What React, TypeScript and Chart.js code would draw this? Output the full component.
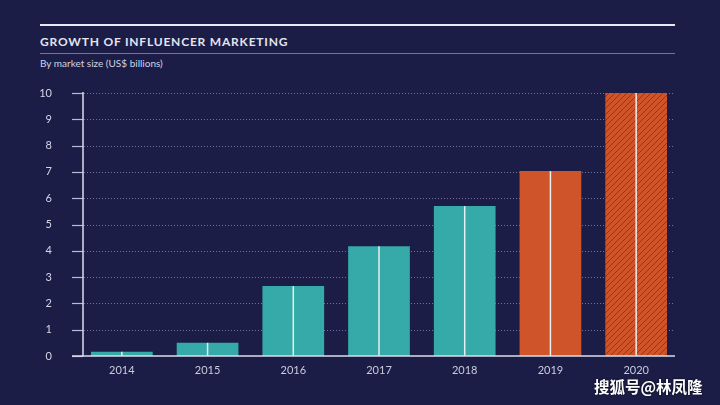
import React, { useEffect, useRef } from "react";
import { Chart, registerables } from "chart.js";
Chart.register(...registerables);

const years = ["2014", "2015", "2016", "2017", "2018", "2019", "2020"];
const marketSize = [0.16, 0.5, 2.66, 4.17, 5.7, 7.03, 10.0];
// "teal" = reported, "orange" = estimate, "hatch" = projection
const barKinds = ["teal", "teal", "teal", "teal", "teal", "orange", "hatch"];
const yMin = 0;
const yMax = 10;

const BG = "#1b1d46";
const TEAL = "#35aaa8";
const ORANGE = "#d0542a";

function makeHatch(): CanvasPattern | string {
  const c = document.createElement("canvas");
  const s = 6;
  c.width = s;
  c.height = s;
  const g = c.getContext("2d");
  if (!g) return ORANGE;
  g.fillStyle = ORANGE;
  g.fillRect(0, 0, s, s);
  g.strokeStyle = "#8e3822";
  g.lineWidth = 1;
  g.beginPath();
  g.moveTo(0, s);
  g.lineTo(s, 0);
  g.moveTo(-s, s);
  g.lineTo(0, 0);
  g.moveTo(0, 2 * s);
  g.lineTo(2 * s, 0);
  g.stroke();
  const p = g.createPattern(c, "repeat");
  return p || ORANGE;
}

const decor = {
  id: "decor",
  beforeDatasetsDraw(chart: any) {
    const { ctx, chartArea, scales } = chart;
    const y = scales.y;
    ctx.save();
    ctx.strokeStyle = "rgba(140,144,190,0.75)";
    ctx.setLineDash([1, 2]);
    ctx.lineWidth = 1;
    y.ticks.forEach((t: any) => {
      if (t.value === yMin) return;
      const py = Math.round(y.getPixelForValue(t.value)) + 0.5;
      ctx.beginPath();
      ctx.moveTo(chartArea.left + 5, py);
      ctx.lineTo(chartArea.right - 4, py);
      ctx.stroke();
    });
    ctx.restore();
  },
  afterDatasetsDraw(chart: any) {
    const { ctx, chartArea, scales } = chart;
    const y = scales.y;
    ctx.save();
    // center white lines in bars
    const meta = chart.getDatasetMeta(0);
    ctx.strokeStyle = "#e6eef0";
    ctx.lineWidth = 1.5;
    meta.data.forEach((bar: any) => {
      ctx.beginPath();
      ctx.moveTo(bar.x, bar.y);
      ctx.lineTo(bar.x, bar.base);
      ctx.stroke();
    });
    // tick marks
    const axX = chartArea.left + 4;
    ctx.strokeStyle = "#b9bcd6";
    ctx.lineWidth = 1.2;
    y.ticks.forEach((t: any) => {
      const py = Math.round(y.getPixelForValue(t.value)) + 0.5;
      ctx.beginPath();
      ctx.moveTo(chartArea.left - 7, py);
      ctx.lineTo(axX, py);
      ctx.stroke();
    });
    // y axis line
    ctx.strokeStyle = "#dcdeea";
    ctx.lineWidth = 1.5;
    ctx.beginPath();
    ctx.moveTo(axX, y.getPixelForValue(yMax) - 1);
    ctx.lineTo(axX, y.getPixelForValue(yMin));
    ctx.stroke();
    // baseline
    const by = y.getPixelForValue(yMin);
    ctx.beginPath();
    ctx.moveTo(chartArea.left - 7, by);
    ctx.lineTo(chartArea.right - 4, by);
    ctx.stroke();
    ctx.restore();
  },
};

export default function App() {
  const ref = useRef<HTMLCanvasElement>(null);
  useEffect(() => {
    document.body.style.margin = "0";
    const cv = ref.current;
    if (!cv) return;
    const hatch = makeHatch();
    const colors = barKinds.map((k) => (k === "teal" ? TEAL : k === "orange" ? ORANGE : hatch));
    const chart = new Chart(cv, {
      type: "bar",
      data: {
        labels: years,
        datasets: [
          {
            data: marketSize,
            backgroundColor: colors as any,
            borderWidth: 0,
            barPercentage: 0.72,
            categoryPercentage: 1,
          },
        ],
      },
      options: {
        responsive: false,
        animation: false,
        layout: { padding: { top: 93, right: 41, bottom: 0, left: 0 } },
        plugins: { legend: { display: false }, tooltip: { enabled: false } },
        scales: {
          x: {
            grid: { display: false, drawTicks: false },
            border: { display: false },
            ticks: {
              color: "#c9cbdc",
              font: { family: "Lato", size: 11 },
              padding: 8,
              maxRotation: 0,
            },
            afterFit: (s: any) => {
              s.height = 49;
            },
          },
          y: {
            min: yMin,
            max: yMax,
            grid: { display: false, drawTicks: false, tickLength: 0 },
            border: { display: false },
            ticks: {
              stepSize: 1,
              color: "#d5d7e6",
              font: { family: "Lato", size: 11 },
              padding: 27,
            },
            afterFit: (s: any) => {
              s.width = 79;
            },
          },
        },
      },
      plugins: [decor],
    });
    return () => chart.destroy();
  }, []);

  return (
    <div style={{ position: "fixed", left: 0, top: 0, width: 720, height: 405, background: BG, overflow: "hidden" }}>
      <div style={{ position: "absolute", left: 40, top: 24, width: 635, height: 2, background: "#e8e9f1" }} />
      <div
        style={{
          position: "absolute",
          left: 40,
          top: 34,
          fontFamily: "Lato",
          fontWeight: 700,
          fontSize: 12,
          letterSpacing: 0.8,
          color: "#e3e4ee",
          whiteSpace: "nowrap",
        }}
      >
        GROWTH OF INFLUENCER MARKETING
      </div>
      <div style={{ position: "absolute", left: 40, top: 53, width: 635, height: 1, background: "#6f72a2" }} />
      <div
        style={{
          position: "absolute",
          left: 40,
          top: 57,
          fontFamily: "Lato",
          fontSize: 10,
          color: "#d2d4e3",
          whiteSpace: "nowrap",
        }}
      >
        By market size (US$ billions)
      </div>
      <canvas ref={ref} width={720} height={405} style={{ position: "absolute", left: 0, top: 0 }} />
      <div
        style={{
          position: "absolute",
          left: 594,
          top: 375,
          fontFamily: "Noto Sans CJK SC",
          fontWeight: 700,
          fontSize: 15.5,
          color: "#ffffff",
          textShadow: "0 0 2px rgba(0,0,0,0.8)",
          whiteSpace: "nowrap",
        }}
      >
        搜狐号@林凤隆
      </div>
    </div>
  );
}
